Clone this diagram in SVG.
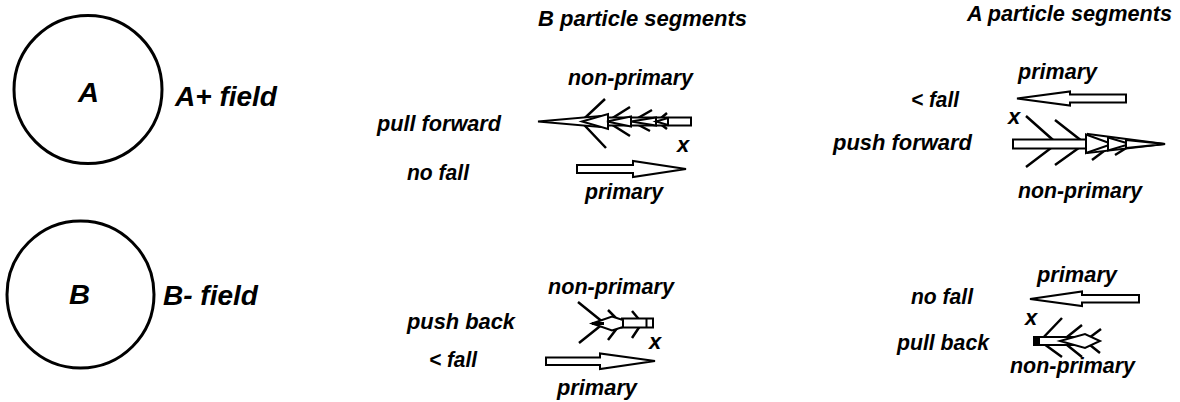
<svg xmlns="http://www.w3.org/2000/svg" width="1180" height="402" viewBox="0 0 1180 402">
<style>
  .t { font-family: "Liberation Sans", Arial, sans-serif; font-weight: bold; font-style: italic; fill: #000; }
  .lbl { font-size: 22px; }
  .big { font-size: 28px; }
  .ring { fill: none; stroke: #000; stroke-width: 3; }
  .blk { fill: #fff; stroke: #000; stroke-width: 2; stroke-linejoin: miter; }
  .barb { fill: none; stroke: #000; stroke-width: 2.5; stroke-linecap: butt; }
</style>
<rect width="1180" height="402" fill="#fff"/>

<g id="particle-A">
  <circle class="ring" cx="88" cy="89.5" r="74"/>
  <text class="t big" x="78" y="102" textLength="21" lengthAdjust="spacingAndGlyphs">A</text>
  <text class="t big" x="175" y="106" textLength="102" lengthAdjust="spacingAndGlyphs">A+ field</text>
</g>
<g id="particle-B">
  <circle class="ring" cx="80.5" cy="294.5" r="73.5"/>
  <text class="t big" x="69" y="303.5" textLength="21" lengthAdjust="spacingAndGlyphs">B</text>
  <text class="t big" x="163" y="305" textLength="95" lengthAdjust="spacingAndGlyphs">B- field</text>
</g>

<g id="headers">
  <text class="t lbl" x="538" y="26" textLength="209" lengthAdjust="spacingAndGlyphs">B particle segments</text>
  <text class="t lbl" x="967" y="21" textLength="205" lengthAdjust="spacingAndGlyphs">A particle segments</text>
</g>

<g id="labels">
  <text class="t lbl" x="377" y="130.5" textLength="124" lengthAdjust="spacingAndGlyphs">pull forward</text>
  <text class="t lbl" x="407" y="180" textLength="62" lengthAdjust="spacingAndGlyphs">no fall</text>
  <text class="t lbl" x="568" y="85" textLength="125" lengthAdjust="spacingAndGlyphs">non-primary</text>
  <text class="t lbl" x="585" y="199" textLength="78" lengthAdjust="spacingAndGlyphs">primary</text>
  <text class="t lbl" x="677" y="152">x</text>

  <text class="t lbl" x="407" y="328.5" textLength="108" lengthAdjust="spacingAndGlyphs">push back</text>
  <text class="t lbl" x="429" y="366.5" textLength="48" lengthAdjust="spacingAndGlyphs">&lt; fall</text>
  <text class="t lbl" x="548" y="293.5" textLength="126" lengthAdjust="spacingAndGlyphs">non-primary</text>
  <text class="t lbl" x="557" y="395" textLength="80" lengthAdjust="spacingAndGlyphs">primary</text>
  <text class="t lbl" x="649" y="348.5">x</text>

  <text class="t lbl" x="1018" y="79" textLength="79" lengthAdjust="spacingAndGlyphs">primary</text>
  <text class="t lbl" x="911" y="107" textLength="48" lengthAdjust="spacingAndGlyphs">&lt; fall</text>
  <text class="t lbl" x="1008" y="124">x</text>
  <text class="t lbl" x="833" y="150" textLength="139" lengthAdjust="spacingAndGlyphs">push forward</text>
  <text class="t lbl" x="1018" y="198" textLength="124" lengthAdjust="spacingAndGlyphs">non-primary</text>

  <text class="t lbl" x="1037" y="282" textLength="80" lengthAdjust="spacingAndGlyphs">primary</text>
  <text class="t lbl" x="911" y="304" textLength="62" lengthAdjust="spacingAndGlyphs">no fall</text>
  <text class="t lbl" x="1025" y="325">x</text>
  <text class="t lbl" x="897" y="350" textLength="92" lengthAdjust="spacingAndGlyphs">pull back</text>
  <text class="t lbl" x="1010" y="373" textLength="125" lengthAdjust="spacingAndGlyphs">non-primary</text>
</g>

<g id="connectors">
  <!-- B top: non-primary (pull forward) -->
  <g id="b-top-nonprimary">
    <polyline class="barb" points="605,99 581,121.5 606,148"/>
    <polyline class="barb" points="630,107 607,121.5 630,136"/>
    <polyline class="barb" points="652,110 632,121.5 650,131"/>
    <polyline class="barb" points="667,113 657,121.5 667,129"/>
    <rect class="blk" x="600" y="117.5" width="91" height="8"/>
    <polygon class="blk" points="538,121.5 600,116 600,127"/>
    <polygon class="blk" points="582,121.5 608,114 608,129"/>
    <polygon class="blk" points="607,121.5 631,116.5 631,126.5"/>
    <polygon class="blk" points="631,121.5 656,117.5 656,125.5"/>
    <polygon class="blk" points="656,121.5 668,118 668,125"/>
  </g>
  <!-- B top: primary -->
  <polygon id="b-top-primary" class="blk" points="577,165 633,165 633,161 686,169 633,177 633,173 577,173"/>

  <!-- B bottom: non-primary (push back) -->
  <g id="b-bottom-nonprimary">
    <polyline class="barb" points="578,302 604,323 579,343"/>
    <polyline class="barb" points="608,310 621,323 608,340"/>
    <polyline class="barb" points="632,311 642,323 632,338"/>
    <rect class="blk" x="622" y="318.5" width="31" height="9"/>
    <line x1="646.5" y1="319" x2="646.5" y2="327" stroke="#000" stroke-width="2"/>
    <polygon class="blk" points="592,323.5 612,316.5 623,320 623,327 612,330.5"/>
    <line x1="592" y1="323.5" x2="604" y2="323.5" stroke="#000" stroke-width="3"/>
  </g>
  <!-- B bottom: primary -->
  <polygon id="b-bottom-primary" class="blk" points="546,357.5 600,357.5 600,353.5 655,361 600,369 600,365 546,365"/>

  <!-- A top: primary -->
  <polygon id="a-top-primary" class="blk" points="1017,98.5 1070,91.5 1070,94.5 1126,94.5 1126,102.5 1070,102.5 1070,105.5"/>

  <!-- A top: non-primary (push forward) -->
  <g id="a-top-nonprimary">
    <polyline class="barb" points="1026,116 1057,143.5 1026,167"/>
    <polyline class="barb" points="1055,120 1085,143.5 1055,165"/>
    <line class="barb" x1="1092" y1="160" x2="1108" y2="148"/>
    <line class="barb" x1="1115" y1="155" x2="1128" y2="147"/>
    <rect class="blk" x="1013" y="139.5" width="75" height="9"/>
    <polygon class="blk" points="1088,134 1165,144 1088,153"/>
    <polygon class="blk" points="1086,134.5 1112,144 1086,153"/>
    <polygon class="blk" points="1108,137.5 1130,144 1108,150.5"/>
    <polygon class="blk" points="1126,140 1165,144 1126,148"/>
  </g>

  <!-- A bottom: primary -->
  <polygon id="a-bottom-primary" class="blk" points="1030,299 1082,291.5 1082,295 1139,295 1139,302.5 1082,302.5 1082,306"/>

  <!-- A bottom: non-primary (pull back) -->
  <g id="a-bottom-nonprimary">
    <polyline class="barb" points="1062,318 1040,341 1062,357"/>
    <polyline class="barb" points="1082,325 1062,341 1082,357"/>
    <polyline class="barb" points="1101,329 1085,341 1100,353"/>
    <rect class="blk" x="1034" y="337" width="51" height="8"/>
    <polygon class="blk" points="1060,341 1085,334 1100,341 1085,348"/>
    <rect x="1033" y="336" width="7" height="10" fill="#000"/>
  </g>
</g>
</svg>
